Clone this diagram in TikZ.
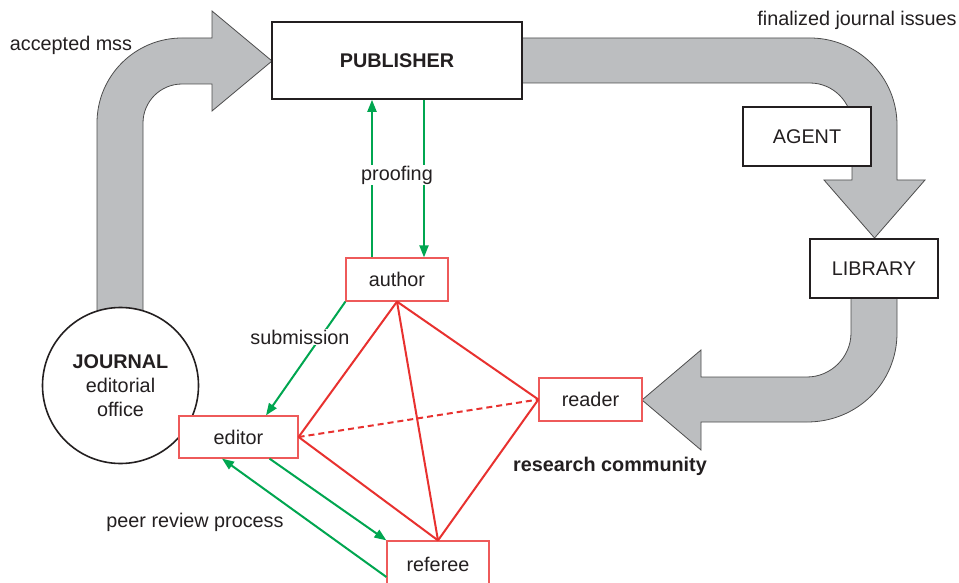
\documentclass[tikz,border=0pt]{standalone}
\usepackage{fontspec}
\setmainfont{Liberation Sans}
\usetikzlibrary{arrows.meta}
\definecolor{arrowgray}{HTML}{BCBEC0}
\definecolor{edgegray}{HTML}{4D4D4D}
\definecolor{pgreen}{HTML}{00A650}
\definecolor{pred}{HTML}{E8312F}
\definecolor{pboxred}{HTML}{EE5A5A}
\definecolor{ptext}{HTML}{231F20}
\tikzset{
  bigarrow/.style={fill=arrowgray, draw=edgegray, line width=0.8pt},
  blackbox/.style={draw=ptext, line width=1.6pt, fill=white, inner sep=0pt},
  redbox/.style={draw=pboxred, line width=1.2pt, fill=white, inner sep=0pt},
  lbl/.style={font=\fontsize{19.8}{23}\selectfont, text=ptext, inner sep=1pt},
  boldlbl/.style={lbl, font=\fontsize{19.8}{23}\selectfont\bfseries},
  greenarrow/.style={draw=pgreen, line width=2pt, -{Triangle[length=12pt,width=9pt]}},
  redline/.style={draw=pred, line width=2pt},
}
\begin{document}
\begin{tikzpicture}[x=1pt,y=-1pt]
\clip (0,0) rectangle (959,583);
\fill[white] (0,0) rectangle (959,583);
% big gray arrows
\draw[bigarrow] (97,340) -- (97,123) .. controls (97,76) and (135,38) .. (182,38)
  -- (212,38) -- (212,11) -- (272,61) -- (212,111) -- (212,84) -- (182,84)
  .. controls (160.5,84) and (143,101.5) .. (143,123) -- (143,340) -- cycle;
\draw[bigarrow] (515,38) -- (810,38) .. controls (858,38) and (897,77) .. (897,125)
  -- (897,180) -- (925,180) -- (874.5,238) -- (824,180) -- (852,180) -- (852,125)
  .. controls (852,102) and (833,83) .. (810,83) -- (515,83) -- cycle;
\draw[bigarrow] (851,290) -- (851,333) .. controls (851,357) and (831,377) .. (807,377)
  -- (701,377) -- (701,350) -- (642,400) -- (701,450) -- (701,422) -- (807,422)
  .. controls (857,422) and (897,383) .. (897,333) -- (897,290) -- cycle;
% boxes
\node[blackbox, minimum width=250pt, minimum height=77pt] (publisher) at (397,60.5) {};
\node[boldlbl] at (publisher.center) {PUBLISHER};
\node[blackbox, minimum width=128pt, minimum height=59pt] (agent) at (807,136.5) {};
\node[lbl] at (agent.center) {AGENT};
\node[blackbox, minimum width=128pt, minimum height=59pt] (library) at (874,268.5) {};
\node[lbl] at (library.center) {LIBRARY};
\node[blackbox, circle, minimum size=156pt] (journal) at (120.5,385.5) {};
\node[lbl, align=center, font=\fontsize{19.8}{24}\selectfont] at (120.5,386) {\textbf{JOURNAL}\\editorial\\office};
% red boxes
\node[redbox, minimum width=102pt, minimum height=43pt] (author) at (397,279.5) {};
\node[lbl] at (author.center) {author};
\node[redbox, minimum width=119pt, minimum height=42pt] (editor) at (238.5,437) {};
\node[lbl] at (editor.center) {editor};
\node[redbox, minimum width=103pt, minimum height=43pt] (reader) at (590.5,399.5) {};
\node[lbl] at (reader.center) {reader};
\node[redbox, minimum width=102pt, minimum height=44pt] (referee) at (438,563) {};
\node[lbl] at ([yshift=-1pt]referee.center) {referee};
% red lines
\draw[redline] (author.south) -- (editor.east);
\draw[redline] (author.south) -- (reader.west);
\draw[redline] (author.south) -- (referee.north);
\draw[redline] (editor.east) -- (referee.north);
\draw[redline] (reader.west) -- (referee.north);
\draw[redline, dash pattern=on 6pt off 4pt] (editor.east) -- (reader.west);
% green arrows
\draw[greenarrow] ([xshift=-25pt]author.north) -- ([xshift=-25pt]author.north |- publisher.south);
\draw[greenarrow] ([xshift=27pt]author.north |- publisher.south) -- ([xshift=27pt]author.north);
\draw[greenarrow] (author.south west) -- ([xshift=27.5pt]editor.north);
\draw[greenarrow] ([xshift=31pt]editor.south) -- (referee.north west);
\draw[greenarrow] ([yshift=-14pt]referee.west) -- ([xshift=-16.5pt]editor.south);
% labels
\node[lbl, fill=white] (proofing) at (397,175) {proofing};
\node[lbl, fill=white] (submission) at (300,337) {submission};
\node[lbl] (accepted) at (71,45) {accepted mss};
\node[lbl] (finalized) at (857,20) {finalized journal issues};
\node[boldlbl] (community) at (610,466) {research community};
\node[lbl] (peer) at (195,522) {peer review process};
\end{tikzpicture}
\end{document}
